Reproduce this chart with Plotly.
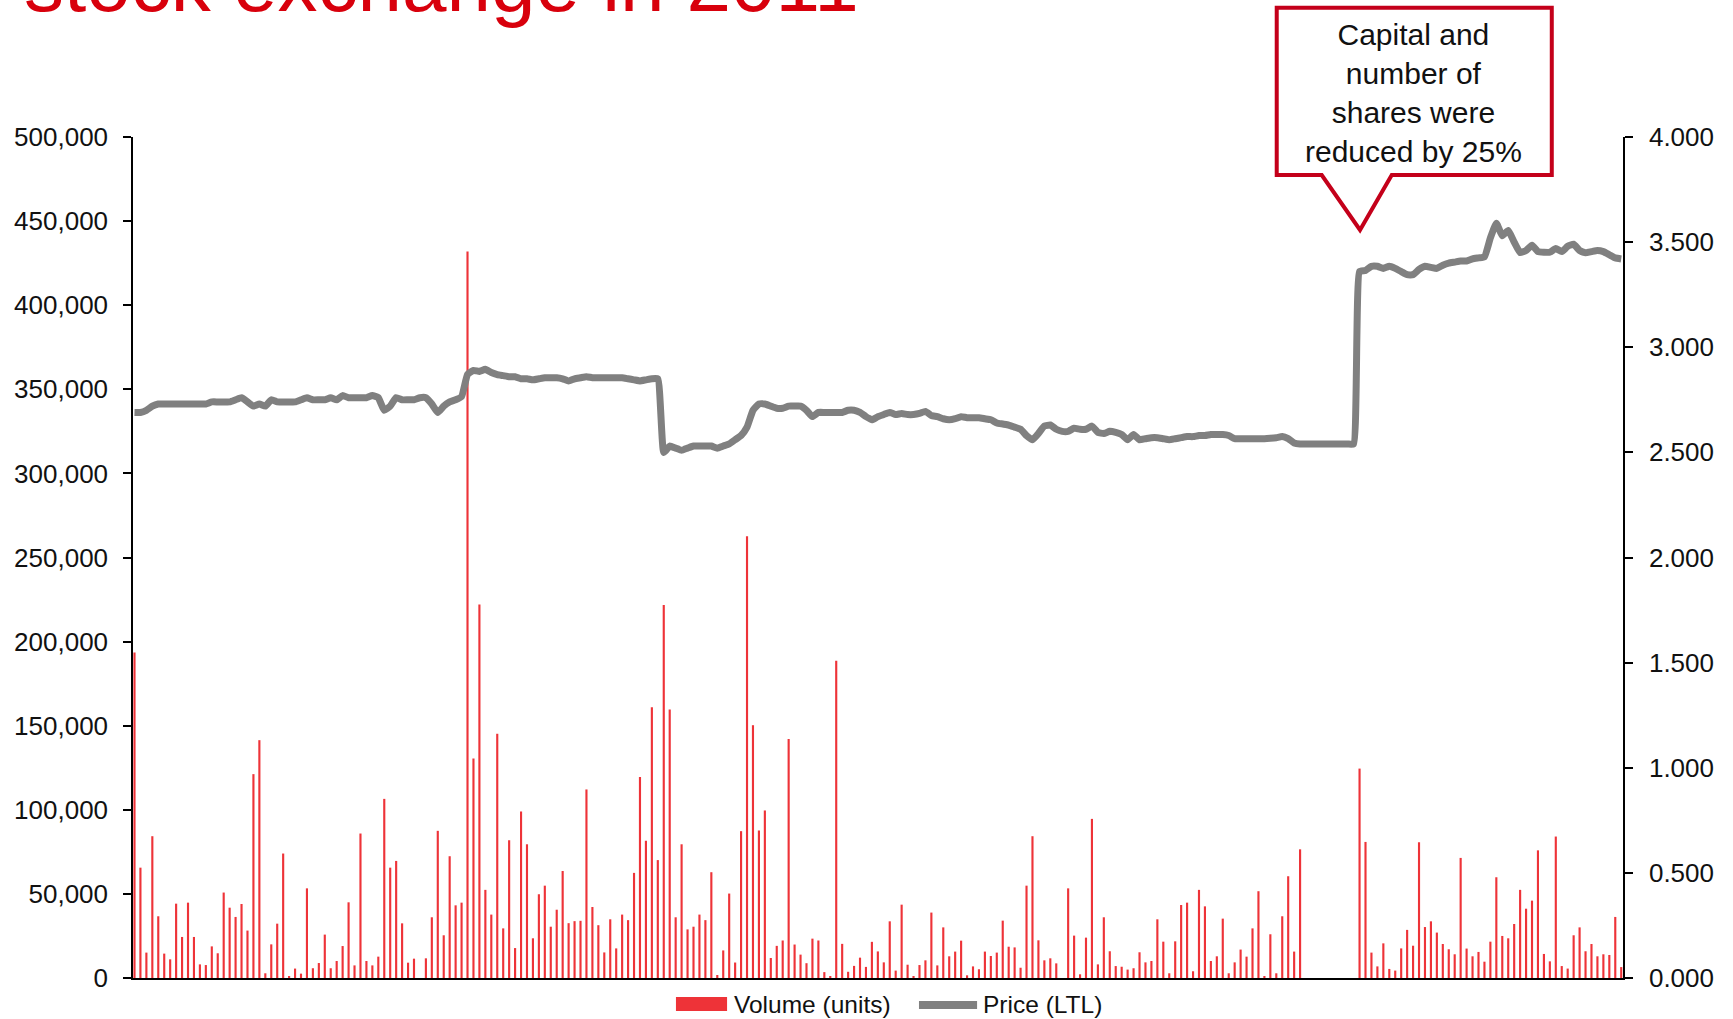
import plotly.graph_objects as go

FONT = "Liberation Sans, Arial, sans-serif"

# ---- data ----
days = list(range(251))  # trading days of 2011 (index)

volume = [
    193500, 65600, 15100, 84300, 36700, 14500, 11100, 44200, 24400, 44800,
    24400, 8100, 7700, 18800, 14700, 50800, 41800, 36300, 44000, 28200,
    121200, 141400, 2800, 20000, 32300, 74000, 1000, 5600, 2600, 53300,
    5800, 8900, 25800, 5800, 10100, 19000, 45000, 7500, 85900, 10100,
    7500, 12700, 106500, 65600, 69600, 32500, 9100, 11500, 0, 11700,
    36100, 87500, 25400, 72400, 43200, 44800, 432000, 130500, 222000, 52400,
    37700, 145200, 29500, 81900, 17800, 99000, 79500, 23600, 49800, 54900,
    30500, 40600, 63600, 32600, 33800, 34000, 112100, 42200, 31400, 15200,
    34900, 17600, 37700, 34400, 62500, 119500, 81600, 160900, 70100, 221800,
    159700, 36100, 79500, 28900, 30500, 37700, 34400, 62900, 1800, 16400,
    50200, 9200, 87300, 262600, 150300, 87700, 99600, 11900, 19100, 22300,
    142100, 19900, 13900, 8800, 23400, 22300, 3500, 600, 188600, 20300,
    3700, 7200, 12100, 6600, 21500, 15800, 9300, 33700, 4400, 43600,
    7900, 1000, 7700, 10500, 38900, 7500, 30100, 12900, 15700, 22200,
    1600, 6900, 5200, 15700, 13100, 15100, 34100, 18600, 18200, 6100,
    54900, 84300, 22400, 10500, 11700, 8700, 0, 53300, 25200, 2200,
    24000, 94600, 8100, 36100, 15900, 7100, 6700, 5000, 5800, 15300,
    9300, 10100, 34900, 21600, 2800, 21800, 43400, 44800, 4000, 52400,
    42600, 10100, 12900, 35300, 2800, 9300, 16900, 12700, 29500, 51600,
    1200, 26000, 2800, 36700, 60500, 15700, 76500, 0, 0, 0, 0, 0, 0, 0, 0, 0,
    124500, 80900, 15100, 6900, 20600, 5400, 4400, 17600, 28600, 19200,
    80700, 30300, 33700, 27000, 20200, 17100, 14100, 71400, 17500, 12900,
    15500, 9700, 21600, 59900, 25000, 23600, 32100, 52400, 41200, 46000,
    75900, 14300, 9900, 84100, 7100, 5600, 25400, 30100, 15900, 20200,
    12900, 14100, 13700, 36300, 6500,
]

price = [
    2.69, 2.69, 2.70, 2.72, 2.73, 2.73, 2.73, 2.73, 2.73, 2.73,
    2.73, 2.73, 2.73, 2.74, 2.74, 2.74, 2.74, 2.75, 2.76, 2.74,
    2.72, 2.73, 2.72, 2.75, 2.74, 2.74, 2.74, 2.74, 2.75, 2.76,
    2.75, 2.75, 2.75, 2.76, 2.75, 2.77, 2.76, 2.76, 2.76, 2.76,
    2.77, 2.76, 2.70, 2.72, 2.76, 2.75, 2.75, 2.75, 2.76, 2.76,
    2.73, 2.69, 2.72, 2.74, 2.75, 2.765, 2.87, 2.89, 2.885, 2.895,
    2.88, 2.87, 2.865, 2.86, 2.86, 2.85, 2.85, 2.845, 2.85, 2.855,
    2.855, 2.855, 2.85, 2.84, 2.85, 2.855, 2.86, 2.855, 2.855, 2.855,
    2.855, 2.855, 2.855, 2.85, 2.845, 2.84, 2.845, 2.85, 2.85, 2.50,
    2.53, 2.52, 2.51, 2.52, 2.53, 2.53, 2.53, 2.53, 2.52, 2.53,
    2.54, 2.56, 2.58, 2.62, 2.70, 2.73, 2.73, 2.72, 2.71, 2.71,
    2.72, 2.72, 2.72, 2.70, 2.67, 2.69, 2.69, 2.69, 2.69, 2.69,
    2.70, 2.70, 2.69, 2.67, 2.655, 2.67, 2.68, 2.69, 2.68, 2.685,
    2.68, 2.68, 2.685, 2.695, 2.675, 2.67, 2.66, 2.655, 2.66, 2.67,
    2.665, 2.665, 2.665, 2.66, 2.655, 2.64, 2.635, 2.63, 2.62, 2.61,
    2.58, 2.56, 2.59, 2.625, 2.63, 2.61, 2.60, 2.60, 2.615, 2.61,
    2.61, 2.625, 2.595, 2.59, 2.60, 2.595, 2.585, 2.56, 2.585, 2.56,
    2.565, 2.57, 2.57, 2.565, 2.56, 2.565, 2.57, 2.575, 2.575, 2.58,
    2.58, 2.585, 2.585, 2.585, 2.58, 2.565, 2.565, 2.565, 2.565, 2.565,
    2.565, 2.567, 2.57, 2.575, 2.565, 2.545, 2.54, 2.54, 2.54, 2.54,
    2.54, 2.54, 2.54, 2.54, 2.54, 2.54, 3.36, 3.365, 3.385, 3.385,
    3.375, 3.385, 3.375, 3.36, 3.345, 3.345, 3.37, 3.385, 3.38, 3.375,
    3.39, 3.40, 3.405, 3.41, 3.41, 3.42, 3.425, 3.43, 3.52, 3.59,
    3.53, 3.555, 3.50, 3.45, 3.46, 3.485, 3.455, 3.452, 3.452, 3.47,
    3.455, 3.48, 3.49, 3.46, 3.45, 3.455, 3.46, 3.455, 3.44, 3.425, 3.42,
]

volume_ticks = [0, 50000, 100000, 150000, 200000, 250000, 300000, 350000, 400000, 450000, 500000]
price_ticks = [0, 0.5, 1.0, 1.5, 2.0, 2.5, 3.0, 3.5, 4.0]

title_text = "stock exchange in 2011"
callout_text = "Capital and<br>number of<br>shares were<br>reduced by 25%"
legend_names = ["Volume (units)", "Price (LTL)"]

RED_BAR = "#EE3338"
GREY = "#808080"
AXIS = "#000000"

fig = go.Figure()
fig.add_trace(go.Bar(
    x=days, y=volume, name=legend_names[0], yaxis="y",
    marker=dict(color=RED_BAR, line=dict(width=0)), width=0.36,
))
fig.add_trace(go.Scatter(
    x=days, y=price, name=legend_names[1], yaxis="y2", mode="lines",
    line=dict(color=GREY, width=7, shape="spline", smoothing=0.4),
))

tickfont = dict(family=FONT, size=26, color="#111111")

fig.update_layout(
    width=1733, height=1019,
    margin=dict(l=133, r=110, t=137, b=41, autoexpand=False),
    paper_bgcolor="white", plot_bgcolor="white",
    showlegend=False,
    font=dict(family=FONT),
    xaxis=dict(range=[-0.25, 250.3], showline=True, linecolor=AXIS, linewidth=1.5,
               showticklabels=False, ticks="", showgrid=False, zeroline=False),
    yaxis=dict(range=[0, 500000], tickvals=volume_ticks, tickformat=",d",
               ticks="outside", ticklen=8, tickwidth=1.5, tickcolor=AXIS,
               showline=True, linecolor=AXIS, linewidth=1.5,
               showgrid=False, zeroline=False, tickfont=tickfont,
               ticklabelstandoff=10),
    yaxis2=dict(overlaying="y", side="right", range=[0, 4], tickvals=price_ticks,
                tickformat=".3f", ticks="outside", ticklen=8, tickwidth=1.5,
                tickcolor=AXIS, showline=True, linecolor=AXIS, linewidth=1.5,
                showgrid=False, zeroline=False, tickfont=tickfont,
                ticklabelstandoff=11),
    yaxis3=dict(overlaying="y", side="left", range=[0, 500000], tickvals=volume_ticks,
                ticks="inside", ticklen=8, tickwidth=1.5, tickcolor=AXIS,
                showticklabels=False, showline=False, showgrid=False, zeroline=False),
    yaxis4=dict(overlaying="y", side="right", range=[0, 4], tickvals=price_ticks,
                ticks="inside", ticklen=8, tickwidth=1.5, tickcolor=AXIS,
                showticklabels=False, showline=False, showgrid=False, zeroline=False),
)

# callout box with pointer
x0, x1, yt, yb = 0.7676, 0.9522, 1.1537, 0.9548
pb1, pb2, tx, ty = 0.7978, 0.8448, 0.8235, 0.8894
path = (f"M {x0} {yt} L {x1} {yt} L {x1} {yb} L {pb2} {yb} L {tx} {ty} "
        f"L {pb1} {yb} L {x0} {yb} Z")
fig.add_shape(type="path", path=path, xref="paper", yref="paper",
              line=dict(color="#C4001A", width=4), fillcolor="white", layer="above")
fig.add_annotation(text=callout_text, xref="paper", yref="paper", x=0.8597, y=1.0523,
                   xanchor="center", yanchor="middle", showarrow=False,
                   font=dict(family=FONT, size=30, color="#111111"))

# title (only the lower part is visible, as in the reference)
fig.add_annotation(text=title_text, xref="paper", yref="paper", x=-0.0745, y=1.127,
                   xanchor="left", yanchor="bottom", showarrow=False,
                   font=dict(family=FONT, size=80, color="#D8000C"))

# legend
fig.add_shape(type="rect", xref="paper", yref="paper", x0=0.3644, x1=0.3987,
              y0=-0.0392, y1=-0.0226, fillcolor=RED_BAR, line=dict(width=0))
fig.add_shape(type="line", xref="paper", yref="paper", x0=0.5275, x1=0.5665,
              y0=-0.0321, y1=-0.0321, line=dict(color=GREY, width=8))
fig.add_annotation(text=legend_names[0], xref="paper", yref="paper", x=0.4020, y=-0.0321,
                   xanchor="left", yanchor="middle", showarrow=False,
                   font=dict(family=FONT, size=24.5, color="#111111"))
fig.add_annotation(text=legend_names[1], xref="paper", yref="paper", x=0.5690, y=-0.0321,
                   xanchor="left", yanchor="middle", showarrow=False,
                   font=dict(family=FONT, size=24.5, color="#111111"))

fig.write_html("out.html", config={"displayModeBar": False},
               post_script="document.body.style.margin='0';document.body.style.overflow='hidden';")
